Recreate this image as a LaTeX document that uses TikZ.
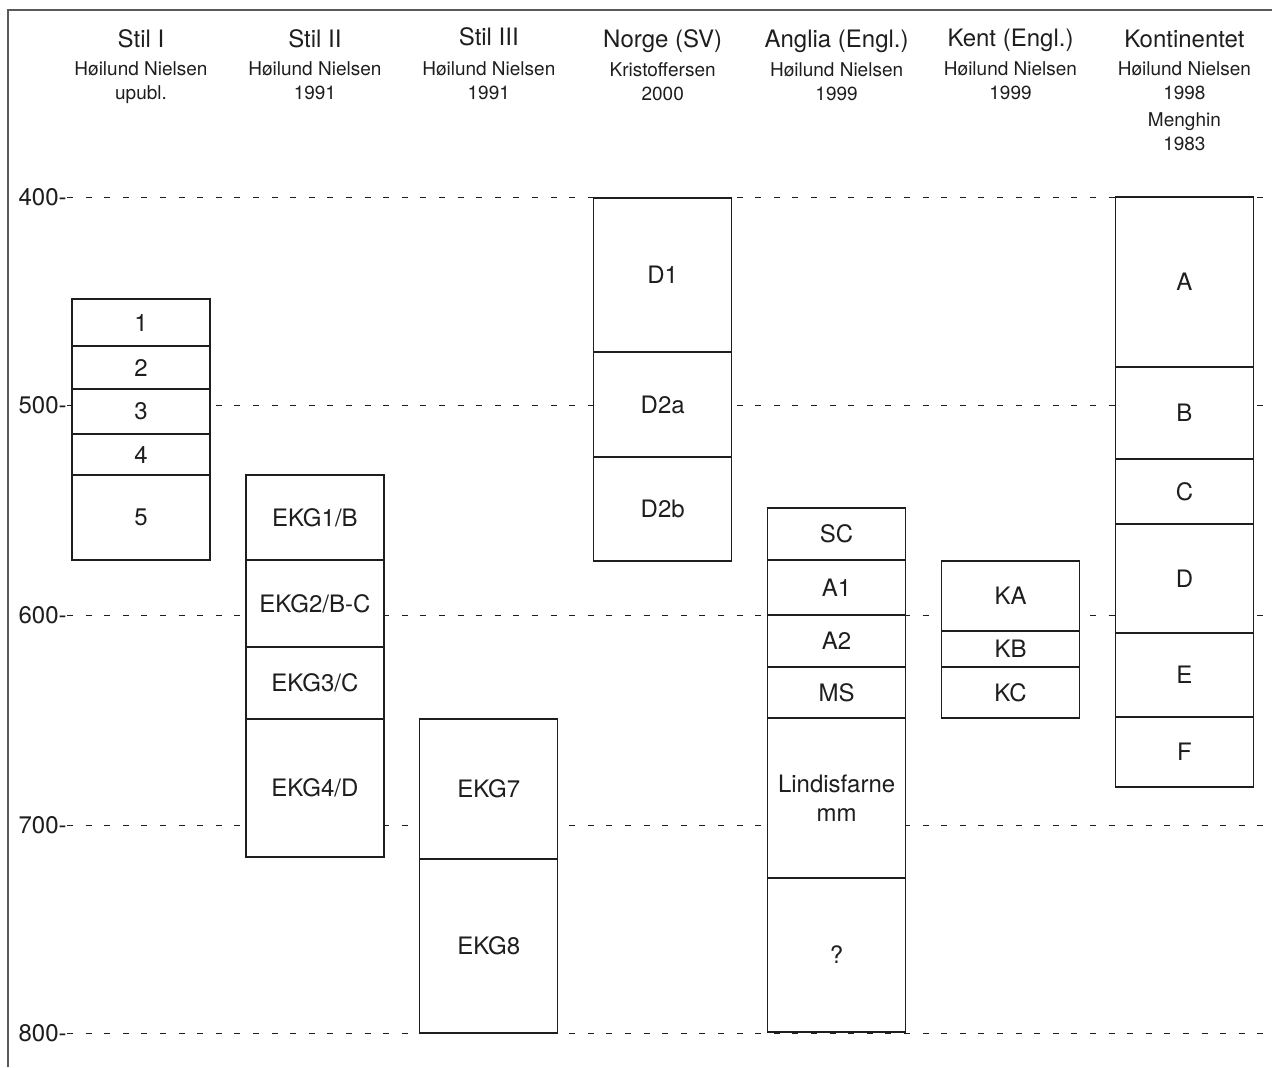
\documentclass[tikz,border=0pt]{standalone}
\usepackage{fontspec}
\setmainfont{TeX Gyre Heros}
\usetikzlibrary{positioning}
\definecolor{inkgray}{HTML}{1E1E1E}
\definecolor{framegray}{HTML}{5A5A5A}
\tikzset{
  coltitle/.style={font=\fontsize{12}{14.4}\selectfont, text=inkgray, inner sep=0pt, anchor=base},
  colsrc/.style={font=\fontsize{9.5}{12}\selectfont, text=inkgray, align=center, inner sep=0pt, anchor=north},
  period/.style={draw=inkgray, fill=white, line width=0.6pt, minimum width=69pt, inner sep=0pt, outer sep=0pt, align=center, text=inkgray, font=\fontsize{12}{14.5}\selectfont},
  spanh/.style={minimum height=#1*0.5pt},
  yearlab/.style={font=\fontsize{12}{14.4}\selectfont, text=inkgray, inner sep=0pt, anchor=east},
  gridline/.style={draw=inkgray, line width=0.5pt, dash pattern=on 3pt off 6.3pt},
  framer/.style={draw=framegray, line width=1pt}
}

\begin{document}
\begin{tikzpicture}[x=0.5pt, y=-0.5pt]
  \useasboundingbox (0,0) rectangle (1272,1067);

  \node[yearlab] (y400) at (67,197) {400-};
  \node[yearlab] (y500) at (67,405) {500-};
  \node[yearlab] (y600) at (67,615) {600-};
  \node[yearlab] (y700) at (67,825) {700-};
  \node[yearlab] (y800) at (67,1033) {800-};
  \coordinate (e400) at (1272,197);
  \coordinate (e500) at (1272,405);
  \coordinate (e600) at (1272,615);
  \coordinate (e700) at (1272,825);
  \coordinate (e800) at (1272,1033);
  \draw[gridline] (y400.east) -- (e400);
  \draw[gridline] (y500.east) -- (e500);
  \draw[gridline] (y600.east) -- (e600);
  \draw[gridline] (y700.east) -- (e700);
  \draw[gridline] (y800.east) -- (e800);

  \node[coltitle] (stilI) at (141,47) {Stil I};
  \node[colsrc] (stilIsrc) at (141,61.5) {Høilund Nielsen\\upubl.};
  \node[coltitle] (stilII) at (314.9,47) {Stil II};
  \node[colsrc] (stilIIsrc) at (314.9,61.5) {Høilund Nielsen\\1991};
  \node[coltitle] (stilIII) at (488.8,45) {Stil III};
  \node[colsrc] (stilIIIsrc) at (488.8,61.5) {Høilund Nielsen\\1991};
  \node[coltitle] (norge) at (662.7,47) {Norge (SV)};
  \node[colsrc] (norgesrc) at (662.7,62) {Kristoffersen\\2000};
  \node[coltitle] (anglia) at (836.6,47) {Anglia (Engl.)};
  \node[colsrc] (angliasrc) at (836.6,62) {Høilund Nielsen\\1999};
  \node[coltitle] (kent) at (1010.5,46) {Kent (Engl.)};
  \node[colsrc] (kentsrc) at (1010.5,61) {Høilund Nielsen\\1999};
  \node[coltitle] (kont) at (1184.4,47) {Kontinentet};
  \node[colsrc] (kontsrc) at (1184.4,61) {Høilund Nielsen\\1998\\[1.5pt]Menghin\\1983};

  \node[period, spanh=47, anchor=north] (stilIa) at (141,299) {1};
  \node[period, spanh=43, below=0pt of stilIa] (stilIb) {2};
  \node[period, spanh=45, below=0pt of stilIb] (stilIc) {3};
  \node[period, spanh=41, below=0pt of stilIc] (stilId) {4};
  \node[period, spanh=85, below=0pt of stilId] (stilIe) {5};

  \node[period, spanh=85, anchor=north] (ekgI) at (314.9,475) {EKG1/B};
  \node[period, spanh=87, below=0pt of ekgI] (ekgII) {EKG2/B-C};
  \node[period, spanh=72, below=0pt of ekgII] (ekgIII) {EKG3/C};
  \node[period, spanh=138, below=0pt of ekgIII] (ekgIV) {EKG4/D};

  \node[period, spanh=140, anchor=north] (ekgVII) at (488.8,719) {EKG7};
  \node[period, spanh=174, below=0pt of ekgVII] (ekgVIII) {EKG8};

  \node[period, spanh=154, anchor=north] (dI) at (662.7,198) {D1};
  \node[period, spanh=105, below=0pt of dI] (dIIa) {D2a};
  \node[period, spanh=104, below=0pt of dIIa] (dIIb) {D2b};

  \node[period, spanh=52, anchor=north] (sc) at (836.6,508) {SC};
  \node[period, spanh=55, below=0pt of sc] (aI) {A1};
  \node[period, spanh=52, below=0pt of aI] (aII) {A2};
  \node[period, spanh=51, below=0pt of aII] (ms) {MS};
  \node[period, spanh=160, below=0pt of ms] (lindis) {Lindisfarne\\mm};
  \node[period, spanh=154, below=0pt of lindis] (unknown) {?};

  \node[period, spanh=70, anchor=north] (ka) at (1010.5,561) {KA};
  \node[period, spanh=36, below=0pt of ka] (kb) {KB};
  \node[period, spanh=51, below=0pt of kb] (kc) {KC};

  \node[period, spanh=170, anchor=north] (kA) at (1184.4,197) {A};
  \node[period, spanh=92, below=0pt of kA] (kB) {B};
  \node[period, spanh=65, below=0pt of kB] (kC) {C};
  \node[period, spanh=109, below=0pt of kC] (kD) {D};
  \node[period, spanh=84, below=0pt of kD] (kE) {E};
  \node[period, spanh=70, below=0pt of kE] (kF) {F};

  \coordinate (fbl) at (8,1067);
  \coordinate (ftl) at (8,10);
  \coordinate (ftr) at (1272,10);
  \draw[framer] (fbl) -- (ftl) -- (ftr);
\end{tikzpicture}
\end{document}
